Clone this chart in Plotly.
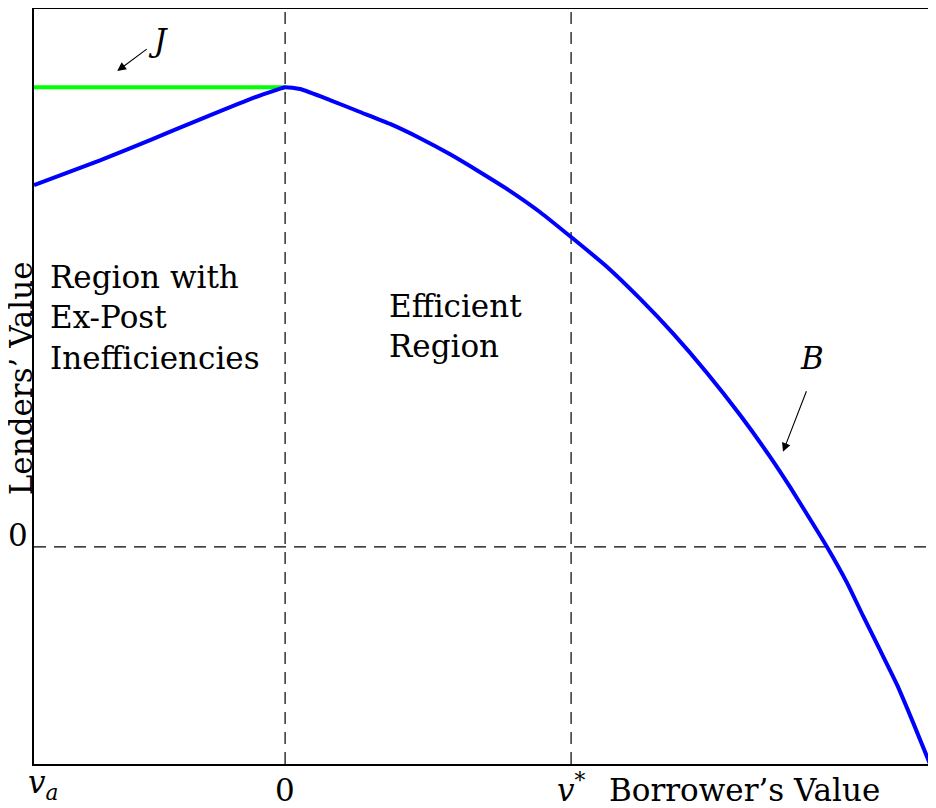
import plotly.graph_objects as go

# borrower's value (x) and lenders' value (y) along frontier B; v* = 1, peak = 1
frontier_x = [-0.878, -0.647, -0.472, -0.297, -0.122, -0.035, 0.0, 0.052, 0.157, 0.262,
              0.367, 0.472, 0.577, 0.682, 0.787, 0.892, 1.0, 1.126, 1.241, 1.357,
              1.476, 1.591, 1.696, 1.766, 1.846, 1.895, 1.965, 2.021, 2.080, 2.140,
              2.196, 2.255]
frontier_y = [0.787, 0.841, 0.885, 0.930, 0.974, 0.993, 1.0, 0.996, 0.972, 0.946,
              0.920, 0.889, 0.854, 0.815, 0.774, 0.728, 0.674, 0.609, 0.540, 0.464,
              0.378, 0.287, 0.196, 0.130, 0.050, 0.0, -0.078, -0.150, -0.224, -0.300,
              -0.382, -0.472]

# J: flat line at the peak value over the inefficient region
j_x = [-0.878, 0.0]
j_y = [1.0, 1.0]

v_a = -0.878
v_star = 1.0
x_range = [v_a, 2.276]
y_range = [-0.472, 1.170]

FONT = "DejaVu Serif"

fig = go.Figure()

fig.add_trace(go.Scatter(x=j_x, y=j_y, mode="lines",
                         line=dict(color="#00ff00", width=4), hoverinfo="skip"))
fig.add_trace(go.Scatter(x=frontier_x, y=frontier_y, mode="lines",
                         line=dict(color="#0000ff", width=4, shape="spline", smoothing=0.5),
                         hoverinfo="skip"))

# dashed reference lines
dash = dict(color="black", width=1.2, dash="12px,8px")
fig.add_shape(type="line", x0=0, x1=0, y0=0, y1=1, xref="x", yref="paper", line=dash, layer="below")
fig.add_shape(type="line", x0=v_star, x1=v_star, y0=0, y1=1, xref="x", yref="paper", line=dash, layer="below")
fig.add_shape(type="line", x0=0, x1=1, y0=0, y1=0, xref="paper", yref="y", line=dash, layer="below")

txt = dict(family=FONT, size=31, color="black")

def note(text, x, y, **kw):
    fig.add_annotation(text=text, x=x, y=y, showarrow=False, font=txt, **kw)

# region labels
note("Region with<br>Ex-Post<br>Inefficiencies", -0.829, 0.498, xref="x", yref="y",
     xanchor="left", yanchor="middle", align="left")
note("Efficient<br>Region", 0.357, 0.480, xref="x", yref="y",
     xanchor="left", yanchor="middle", align="left")

# curve labels with arrows
note("<i>J</i>", -0.444, 1.102, xref="x", yref="y")
fig.add_annotation(x=-0.587, y=1.035, ax=31, ay=-23, text="", showarrow=True,
                   arrowhead=2, arrowsize=1.6, arrowwidth=1.1, arrowcolor="black")
note("<i>B</i>", 1.843, 0.411, xref="x", yref="y")
fig.add_annotation(x=1.741, y=0.207, ax=24, ay=-62, text="", showarrow=True,
                   arrowhead=2, arrowsize=1.6, arrowwidth=1.1, arrowcolor="black")

# tick labels and axis titles
note("<i>v</i><sub><i>a</i></sub>", v_a, 0, xref="x", yref="paper",
     yanchor="middle", xshift=9, yshift=-20)
note("0", 0, 0, xref="x", yref="paper", yanchor="middle", yshift=-26)
note("<i>v</i><sup>*</sup>", v_star, 0, xref="x", yref="paper", yanchor="middle", yshift=-24)
note("Borrower’s Value", 1.126, 0, xref="x", yref="paper", xanchor="left",
     yanchor="middle", yshift=-26)
note("0", -0.0177, 0.026, xref="paper", yref="y", xanchor="center", yanchor="middle")
note("Lenders’ Value", -0.0144, 0.367, xref="paper", yref="y", textangle=-90,
     xanchor="center", yanchor="middle")

fig.update_xaxes(range=x_range, showgrid=False, zeroline=False, showticklabels=False,
                 ticks="", showline=True, linecolor="black", linewidth=1.5, mirror=True)
fig.update_yaxes(range=y_range, showgrid=False, zeroline=False, showticklabels=False,
                 ticks="", showline=True, linecolor="black", linewidth=1.5, mirror=False)

# the page adds an 8px body margin, so the figure is 8px smaller than the window
fig.update_layout(
    width=928, height=800,
    margin=dict(l=26, r=0, t=1, b=44),
    plot_bgcolor="white", paper_bgcolor="white",
    showlegend=False,
    font=txt,
)

fig.write_html("out.html")
